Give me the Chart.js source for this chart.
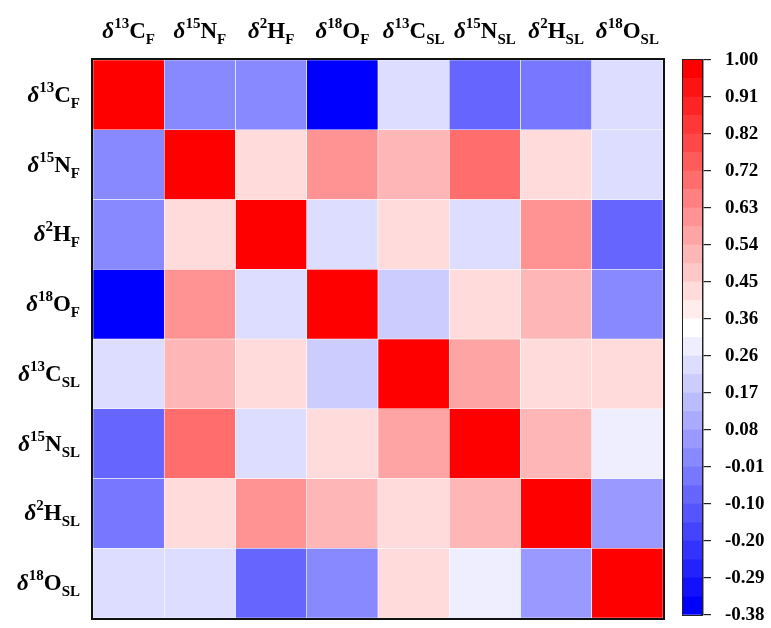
<!DOCTYPE html>
<html><head><meta charset="utf-8">
<script src="https://cdn.jsdelivr.net/npm/chart.js@4.4.1/dist/chart.umd.min.js"></script>
<style>
html,body{margin:0;padding:0;background:#fff;}
#wrap{position:relative;width:771px;height:628px;}
canvas{position:absolute;left:0;top:0;}
</style></head><body>
<div id="wrap"><canvas id="heat" width="771" height="628"></canvas><canvas id="cbar" width="771" height="628"></canvas></div>
<script>
// ---- data ----
const categories = ['δ13C_F','δ15N_F','δ2H_F','δ18O_F','δ13C_SL','δ15N_SL','δ2H_SL','δ18O_SL'];
const isotopes   = ['13','15','2','18','13','15','2','18'];
const elements   = ['C','N','H','O','C','N','H','O'];
const subscripts = ['F','F','F','F','SL','SL','SL','SL'];

const rowC13F  = [ 1.00, 0.01, 0.01,-0.38, 0.24,-0.08,-0.03, 0.24];
const rowN15F  = [ 0.01, 1.00, 0.43, 0.61, 0.52, 0.70, 0.43, 0.24];
const rowH2F   = [ 0.01, 0.43, 1.00, 0.24, 0.43, 0.24, 0.61,-0.08];
const rowO18F  = [-0.38, 0.61, 0.24, 1.00, 0.20, 0.43, 0.52, 0.01];
const rowC13SL = [ 0.24, 0.52, 0.43, 0.20, 1.00, 0.56, 0.43, 0.43];
const rowN15SL = [-0.08, 0.70, 0.24, 0.43, 0.56, 1.00, 0.52, 0.29];
const rowH2SL  = [-0.03, 0.43, 0.61, 0.52, 0.43, 0.52, 1.00, 0.06];
const rowO18SL = [ 0.24, 0.24,-0.08, 0.01, 0.43, 0.29, 0.06, 1.00];

const colorbarTicks = ['-0.38','-0.29','-0.20','-0.10','-0.01','0.08','0.17','0.26','0.36','0.45','0.54','0.63','0.72','0.82','0.91','1.00'];
const scaleMin = -0.38, scaleMax = 1.00, nBins = 30;

// ---- colour map (binned blue-white-red) ----
function binOf(v){
  const k = Math.floor((v - scaleMin) / (scaleMax - scaleMin) * nBins + 1e-9);
  return Math.max(0, Math.min(nBins - 1, k));
}
function binColor(k){
  if (k <= 15) { const c = Math.round(255 * k / 15); return `rgb(${c},${c},255)`; }
  const c = Math.round(255 * (29 - k) / 14); return `rgb(255,${c},${c})`;
}

const matrix = [rowC13F,rowN15F,rowH2F,rowO18F,rowC13SL,rowN15SL,rowH2SL,rowO18SL];
const SERIF = '"Liberation Serif","Times New Roman",serif';

function drawIsoLabel(ctx, i, x, y, align){
  const fMain = `bold 23px ${SERIF}`, fDelta = `italic bold 23px ${SERIF}`;
  const fSup = `bold 15px ${SERIF}`, fSub = `bold 15px ${SERIF}`;
  const parts = [
    {t:'δ', f:fDelta, dy:0},
    {t:isotopes[i], f:fSup, dy:-10},
    {t:elements[i], f:fMain, dy:0},
    {t:subscripts[i], f:fSub, dy:6}
  ];
  let w = 0;
  parts.forEach(p => { ctx.font = p.f; p.w = ctx.measureText(p.t).width; w += p.w; });
  let cx = align === 'center' ? x - w/2 : x - w;
  ctx.fillStyle = '#000'; ctx.textAlign = 'left'; ctx.textBaseline = 'alphabetic';
  parts.forEach(p => { ctx.font = p.f; ctx.fillText(p.t, cx, y + p.dy); cx += p.w; });
}

const heatDecor = {
  id:'heatDecor',
  afterDraw(chart){
    const {ctx, chartArea:a, scales:{x, y}} = chart;
    ctx.save();
    ctx.strokeStyle = '#111'; ctx.lineWidth = 2;
    ctx.strokeRect(a.left - 1, a.top - 1, a.right - a.left + 2, a.bottom - a.top + 2);
    for (let i = 0; i < categories.length; i++){
      drawIsoLabel(ctx, i, x.getPixelForValue(i), 38, 'center');
      drawIsoLabel(ctx, i, 80, y.getPixelForValue(i + 0.5) + 7, 'right');
    }
    ctx.restore();
  }
};

new Chart(document.getElementById('heat'), {
  type:'bar',
  data:{
    labels: categories,
    datasets: matrix.map((row, r) => ({
      label: categories[r],
      data: row.map(() => [r, r + 1]),
      backgroundColor: row.map(v => binColor(binOf(v))),
      borderColor: 'rgba(255,255,255,0.9)',
      borderWidth: 0.6,
      borderSkipped: false,
      barPercentage: 1, categoryPercentage: 1, grouped: false
    }))
  },
  options:{
    responsive:false, animation:false, events:[],
    layout:{padding:{left:93, top:60, right:108, bottom:10}},
    plugins:{legend:{display:false}, tooltip:{enabled:false}},
    scales:{
      x:{type:'category', display:false},
      y:{type:'linear', min:0, max:8, reverse:true, display:false}
    }
  },
  plugins:[heatDecor]
});

// ---- colour bar ----
const cbarDecor = {
  id:'cbarDecor',
  afterDraw(chart){
    const {ctx, chartArea:a} = chart;
    ctx.save();
    ctx.strokeStyle = '#222'; ctx.lineWidth = 1;
    ctx.strokeRect(a.left - 0.5, a.top - 0.5, a.right - a.left + 1, a.bottom - a.top + 1);
    ctx.restore();
  }
};

new Chart(document.getElementById('cbar'), {
  type:'bar',
  data:{
    labels:[''],
    datasets: Array.from({length:nBins}, (_, k) => ({
      data:[[k, k + 1]],
      backgroundColor: binColor(k),
      borderWidth:0,
      barPercentage:1, categoryPercentage:1, grouped:false
    }))
  },
  options:{
    responsive:false, animation:false, events:[],
    layout:{padding:{left:683, top:60, right:0, bottom:13}},
    plugins:{legend:{display:false}, tooltip:{enabled:false}},
    scales:{
      x:{display:false},
      y:{
        type:'linear', position:'right', min:0, max:nBins,
        afterBuildTicks: s => { s.ticks = colorbarTicks.map((t, i) => ({value: i * 2})); },
        afterFit: s => { s.width = 69; s.paddingTop = 0; s.paddingBottom = 0; },
        ticks:{
          autoSkip:false, padding:14, color:'#000',
          font:{family:SERIF, size:19, weight:'bold'},
          callback: v => colorbarTicks[v / 2]
        },
        grid:{drawOnChartArea:false, drawTicks:true, tickLength:9, color:'#222', lineWidth:1.2},
        border:{display:true, color:'#333', width:2.5}
      }
    }
  },
  plugins:[cbarDecor]
});
</script>
</body></html>
